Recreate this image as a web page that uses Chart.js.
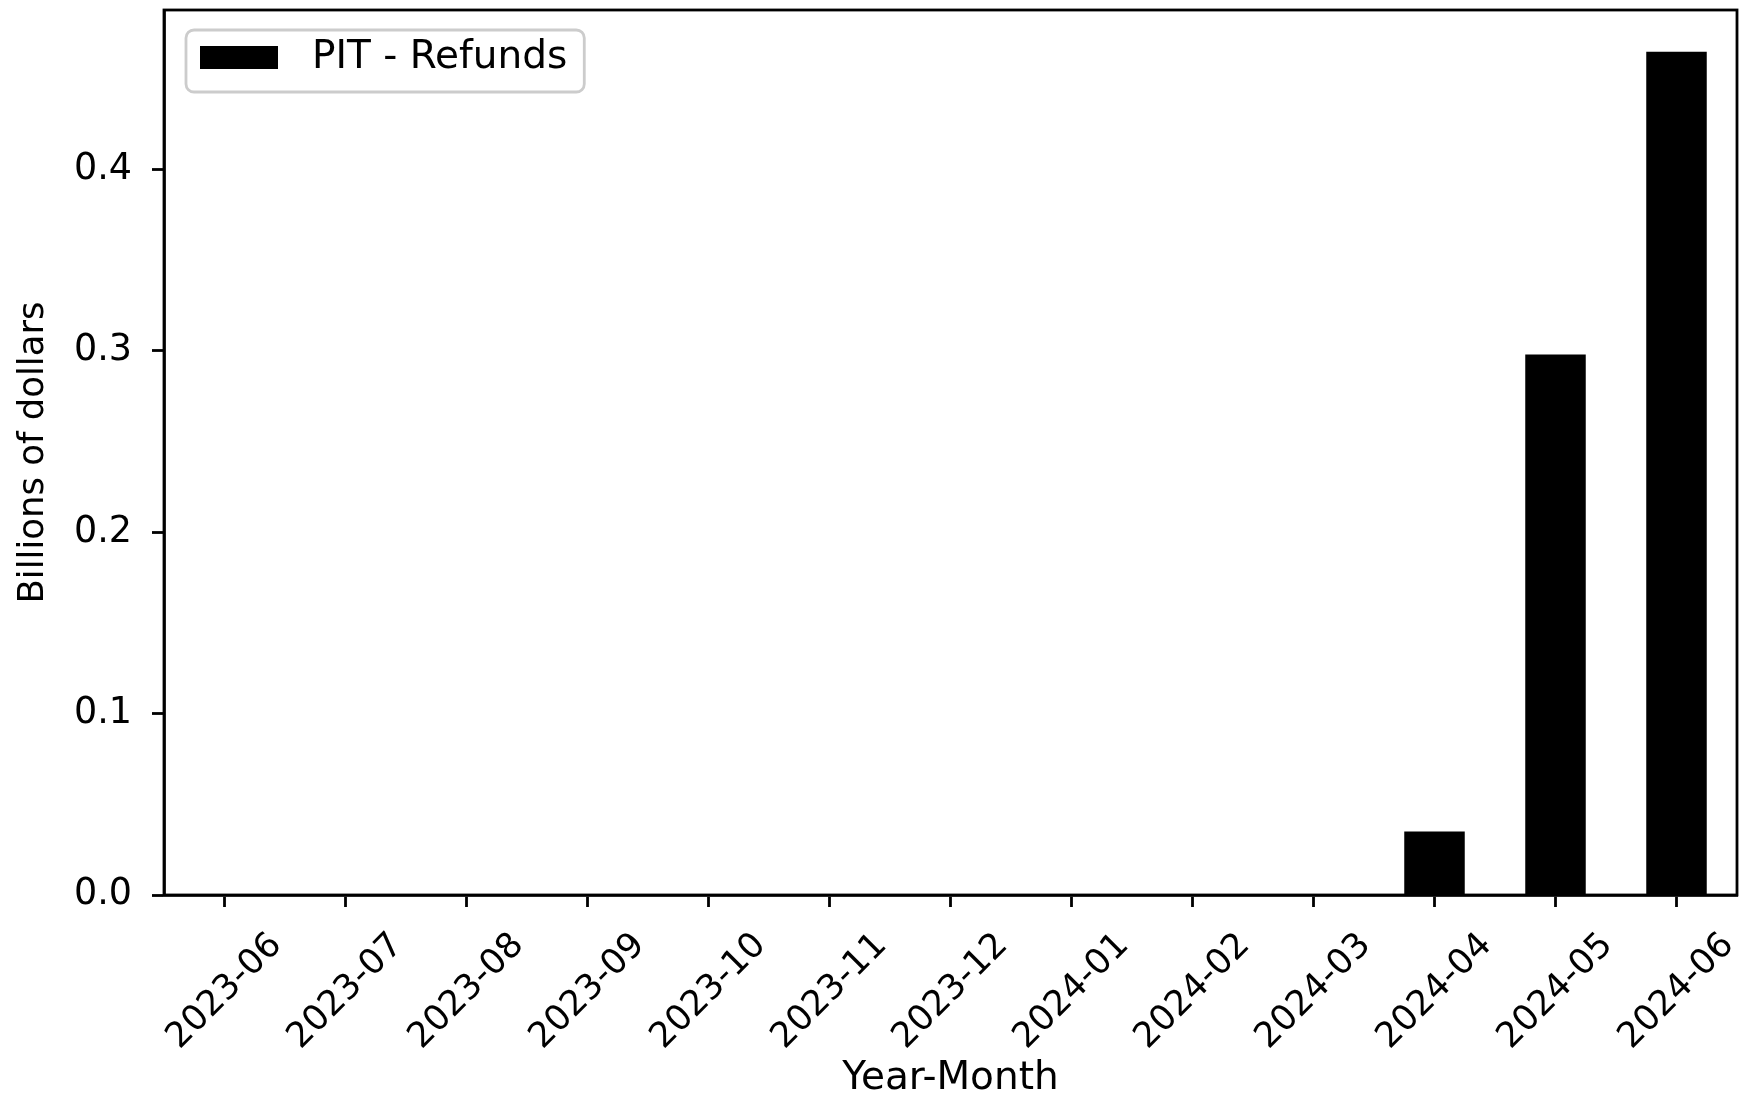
<!DOCTYPE html>
<html>
<head>
<meta charset="utf-8">
<script src="https://cdn.jsdelivr.net/npm/chart.js@4.4.1/dist/chart.umd.min.js"></script>
<style>
    html, body { margin: 0; padding: 0; background: #fff; }
    #chart { display: block; }
</style>
</head>
<body>
<canvas id="chart" width="1754" height="1098"></canvas>
<script>
    // Datos del grafico
    var months = ['2023-06', '2023-07', '2023-08', '2023-09', '2023-10', '2023-11', '2023-12',
                  '2024-01', '2024-02', '2024-03', '2024-04', '2024-05', '2024-06'];
    var refunds = [0, 0, 0, 0, 0, 0, 0, 0, 0, 0, 0.035, 0.298, 0.465];
    var seriesName = 'PIT - Refunds';
    var yTicks = [0.0, 0.1, 0.2, 0.3, 0.4];

    var fontSize = 39;
    var lw = 2.8;
    var fontFamily = '"DejaVu Sans", sans-serif';
    Chart.defaults.font.family = fontFamily;
    Chart.defaults.font.size = fontSize;
    Chart.defaults.color = '#000';

    // Marco del area del grafico y leyenda dentro del area
    var framePlugin = {
        id: 'frame',
        afterDraw: function (chart) {
            var ctx = chart.ctx;
            var a = chart.chartArea;
            ctx.save();
            ctx.strokeStyle = '#000';
            ctx.lineWidth = lw;
            ctx.strokeRect(a.left, a.top, a.right - a.left, a.bottom - a.top);

            // leyenda
            var ds = chart.data.datasets[0];
            ctx.font = fontSize + 'px ' + fontFamily;
            var textX = a.left + 148;
            var textW = ctx.measureText(ds.label).width;
            var bx = a.left + 22, by = a.top + 20;
            var bw = textX + textW + 17 - bx, bh = 62;
            ctx.fillStyle = 'rgba(255,255,255,0.8)';
            ctx.strokeStyle = '#cccccc';
            ctx.lineWidth = 2.8;
            ctx.beginPath();
            ctx.roundRect(bx, by, bw, bh, 8);
            ctx.fill();
            ctx.stroke();

            ctx.fillStyle = ds.backgroundColor;
            ctx.fillRect(a.left + 36, a.top + 36, 78, 23);

            ctx.fillStyle = '#000';
            ctx.textAlign = 'left';
            ctx.textBaseline = 'middle';
            ctx.fillText(ds.label, textX, a.top + 48);
            ctx.restore();
        }
    };

    var data = {
        labels: months,
        datasets: [{
            label: seriesName,
            data: refunds,
            backgroundColor: '#000',
            borderWidth: 0,
            barPercentage: 0.5,
            categoryPercentage: 1.0
        }]
    };

    var config = {
        type: 'bar',
        data: data,
        plugins: [framePlugin],
        options: {
            responsive: false,
            animation: false,
            layout: { padding: { top: 10, right: 17, left: 0, bottom: 0 } },
            plugins: {
                legend: { display: false },
                tooltip: { enabled: false }
            },
            scales: {
                x: {
                    offset: true,
                    grid: { display: true, drawOnChartArea: false, offset: false, tickLength: 12, tickWidth: lw, color: '#000' },
                    border: { display: true, color: '#000', width: lw },
                    ticks: {
                        autoSkip: false,
                        minRotation: 45,
                        maxRotation: 45,
                        padding: 18,
                        labelOffset: 52,
                        color: '#000',
                        font: { size: 35 }
                    },
                    title: {
                        display: true,
                        text: 'Year-Month',
                        padding: { top: 0, bottom: 0 },
                        font: { size: fontSize, lineHeight: 1 }
                    },
                    afterFit: function (scale) { scale.height = 203; }
                },
                y: {
                    min: 0,
                    max: 0.488,
                    afterBuildTicks: function (scale) {
                        scale.ticks = yTicks.map(function (v) { return { value: v }; });
                    },
                    grid: { display: true, drawOnChartArea: false, tickLength: 12, tickWidth: lw, color: '#000' },
                    border: { display: true, color: '#000', width: lw },
                    ticks: {
                        padding: 20,
                        color: '#000',
                        font: { size: 36.5 },
                        callback: function (v) { return Number(v).toFixed(1); }
                    },
                    title: {
                        display: true,
                        text: 'Billions of dollars',
                        padding: { top: 16, bottom: 0 },
                        font: { size: 35.5, lineHeight: 1 }
                    },
                    afterFit: function (scale) {
                        scale.width = 164;
                        scale.paddingTop = 0;
                        scale.paddingBottom = 0;
                    }
                }
            }
        }
    };

    var myChart = new Chart(document.getElementById('chart'), config);
</script>
</body>
</html>
